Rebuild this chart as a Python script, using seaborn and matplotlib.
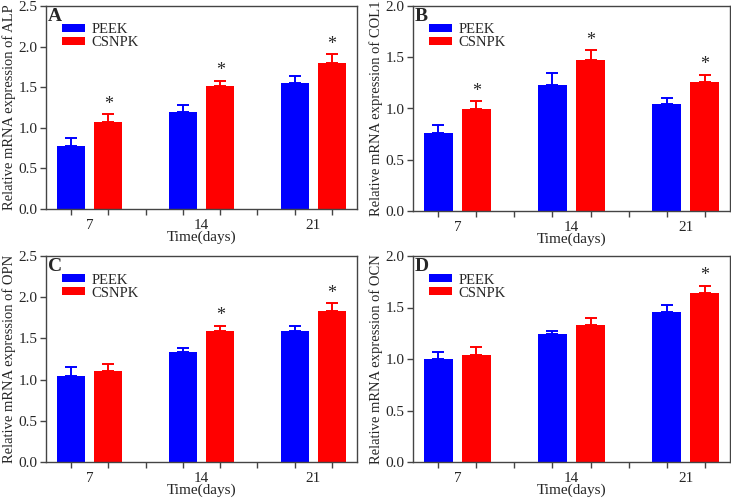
"""Relative mRNA expression of osteogenic genes, PEEK vs CSNPK."""

import matplotlib

matplotlib.use("Agg")

import matplotlib.pyplot as plt
import pandas as pd
import seaborn as sns

days = ["7", "14", "21"]
groups = ["PEEK", "CSNPK"]

alp_peek = [0.77, 1.20, 1.555]
alp_csnpk = [1.07, 1.515, 1.80]
alp_peek_err = [0.10, 0.08, 0.08]
alp_csnpk_err = [0.10, 0.065, 0.11]
alp_sig = [True, True, True]

col1_peek = [0.765, 1.23, 1.045]
col1_csnpk = [0.997, 1.475, 1.26]
col1_peek_err = [0.075, 0.115, 0.055]
col1_csnpk_err = [0.075, 0.095, 0.07]
col1_sig = [True, True, True]

opn_peek = [1.04, 1.335, 1.59]
opn_csnpk = [1.11, 1.59, 1.835]
opn_peek_err = [0.11, 0.05, 0.06]
opn_csnpk_err = [0.08, 0.065, 0.09]
opn_sig = [False, True, True]

ocn_peek = [1.00, 1.245, 1.457]
ocn_csnpk = [1.042, 1.328, 1.637]
ocn_peek_err = [0.065, 0.03, 0.067]
ocn_csnpk_err = [0.075, 0.07, 0.075]
ocn_sig = [False, False, True]

colors = {"PEEK": "#0000FF", "CSNPK": "#FF0000"}

sns.set_style("ticks")
plt.rcParams["font.family"] = ["Liberation Serif", "DejaVu Serif"]
plt.rcParams["axes.edgecolor"] = "#444444"
plt.rcParams["axes.linewidth"] = 1.0


def draw_panel(ax, letter, gene, peek, csnpk, peek_err, csnpk_err, sig, ymax):
    df = pd.DataFrame({
        "day": days * 2,
        "group": [groups[0]] * 3 + [groups[1]] * 3,
        "value": peek + csnpk,
    })
    sns.barplot(data=df, x="day", y="value", hue="group", order=days,
                hue_order=groups, palette=colors, width=0.667, gap=0.25,
                errorbar=None, saturation=1, linewidth=0, ax=ax)

    errs = [peek_err, csnpk_err]
    centers = []
    for k, cont in enumerate(ax.containers[:2]):
        xs = [r.get_x() + r.get_width() / 2 for r in cont]
        ys = [r.get_height() for r in cont]
        centers += xs
        ax.errorbar(xs, ys, yerr=[[0] * 3, errs[k]], fmt="none",
                    ecolor=colors[groups[k]], elinewidth=1.4, capsize=4.5,
                    capthick=1.4, zorder=1)
        if k == 1:
            for x, y, e, s in zip(xs, ys, errs[k], sig):
                if s:
                    ax.annotate("*", (x, y + e), xytext=(0, 1),
                                textcoords="offset points", ha="center",
                                va="bottom", fontsize=13)

    ax.set_xlim(-0.39, 2.39)
    ax.set_ylim(0, ymax)
    ax.set_yticks([i * 0.5 for i in range(int(ymax / 0.5) + 1)])
    ax.yaxis.set_major_formatter(matplotlib.ticker.FormatStrFormatter("%.1f"))
    ax.set_xticks([0, 1, 2])
    ax.set_xticklabels(days)
    ax.set_xticks(sorted(centers + [0.5, 1.5]), minor=True)
    ax.tick_params(axis="x", which="major", length=0, pad=7, labelsize=11)
    ax.tick_params(axis="x", which="minor", length=4, width=1,
                   color="#444444", direction="out")
    ax.tick_params(axis="y", length=4, width=1, color="#444444",
                   pad=2, labelsize=11, direction="out")
    for side in ["top", "right", "bottom", "left"]:
        ax.spines[side].set_visible(True)
    ax.set_xlabel("Time(days)", fontsize=11, labelpad=-1)
    ax.set_ylabel(f"Relative mRNA expression of {gene}", fontsize=10.5,
                  labelpad=2)
    ax.legend(loc="upper left", bbox_to_anchor=(0.05, 0.915), frameon=False,
              fontsize=10.5, handlelength=1.6, handleheight=0.45,
              handletextpad=0.45, labelspacing=0.0, borderaxespad=0,
              borderpad=0)
    ax.text(0.006, 0.99, letter, transform=ax.transAxes, ha="left", va="top",
            fontsize=14, fontweight="bold")


fig = plt.figure(figsize=(7.31, 5.0), dpi=100)
W, H = 731, 500
boxes = [(46, 6, 357, 209), (413, 6, 730, 211),
         (46, 256, 357, 462), (413, 256, 730, 462)]
axes = [fig.add_axes([l / W, 1 - b / H, (r - l) / W, (b - t) / H])
        for l, t, r, b in boxes]

draw_panel(axes[0], "A", "ALP", alp_peek, alp_csnpk, alp_peek_err,
           alp_csnpk_err, alp_sig, 2.5)
draw_panel(axes[1], "B", "COL1", col1_peek, col1_csnpk, col1_peek_err,
           col1_csnpk_err, col1_sig, 2.0)
draw_panel(axes[2], "C", "OPN", opn_peek, opn_csnpk, opn_peek_err,
           opn_csnpk_err, opn_sig, 2.5)
draw_panel(axes[3], "D", "OCN", ocn_peek, ocn_csnpk, ocn_peek_err,
           ocn_csnpk_err, ocn_sig, 2.0)

fig.savefig("out.png", dpi=100)
